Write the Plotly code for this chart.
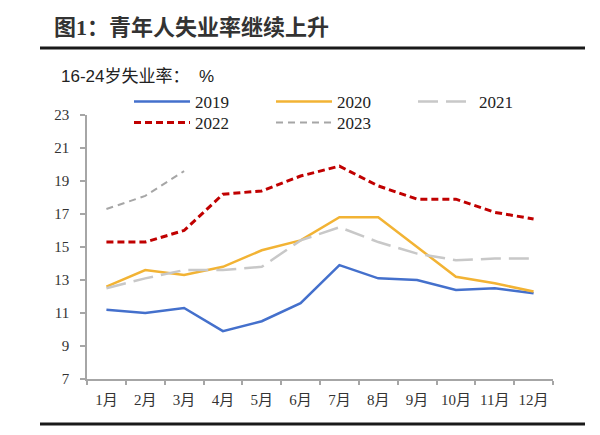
import plotly.graph_objects as go

months = ["1月", "2月", "3月", "4月", "5月", "6月", "7月", "8月", "9月", "10月", "11月", "12月"]
y2019 = [11.2, 11.0, 11.3, 9.9, 10.5, 11.6, 13.9, 13.1, 13.0, 12.4, 12.5, 12.2]
y2020 = [12.6, 13.6, 13.3, 13.8, 14.8, 15.4, 16.8, 16.8, 15.0, 13.2, 12.8, 12.3]
y2021 = [12.5, 13.1, 13.6, 13.6, 13.8, 15.4, 16.2, 15.3, 14.6, 14.2, 14.3, 14.3]
y2022 = [15.3, 15.3, 16.0, 18.2, 18.4, 19.3, 19.9, 18.7, 17.9, 17.9, 17.1, 16.7]
y2023 = [17.3, 18.1, 19.6]
yticks = [7, 9, 11, 13, 15, 17, 19, 21, 23]

title_text = "图1：青年人失业率继续上升"
subtitle_text = "16-24岁失业率：\u00a0\u00a0%"

# page has an 8px body margin; work in screen pixels
OFF = 8
L, R, T, B = 87, 553, 115, 379          # plot area on screen
W, H = 600 - OFF, 435 - OFF             # figure size
pw, ph = R - L, B - T


def px(x):
    return (x - L) / pw


def py(y):
    return (B - y) / ph


serif = "Liberation Serif, Noto Sans CJK SC, serif"
sans = "Liberation Sans, Noto Sans CJK SC, sans-serif"

fig = go.Figure()
fig.add_trace(go.Scatter(x=months, y=y2019, name="2019", mode="lines", legend="legend",
                         line=dict(color="#4470CC", width=2.5)))
fig.add_trace(go.Scatter(x=months, y=y2020, name="2020", mode="lines", legend="legend",
                         line=dict(color="#F2B334", width=2.5)))
fig.add_trace(go.Scatter(x=months, y=y2021, name="2021", mode="lines", legend="legend",
                         line=dict(color="#C8C8C8", width=2.5, dash="20px,8px")))
fig.add_trace(go.Scatter(x=months[:len(y2022)], y=y2022, name="2022", mode="lines", legend="legend2",
                         line=dict(color="#C00000", width=3, dash="7px,4px")))
fig.add_trace(go.Scatter(x=months[:len(y2023)], y=y2023, name="2023", mode="lines", legend="legend2",
                         line=dict(color="#A6A6A6", width=2, dash="7px,5px")))

legend_common = dict(
    orientation="h", xanchor="left", yanchor="top",
    font=dict(family=serif, size=17, color="#222"),
    itemwidth=56, entrywidth=71, entrywidthmode="pixels",
    bgcolor="rgba(0,0,0,0)", borderwidth=0,
    tracegroupgap=0, itemclick=False, itemdoubleclick=False,
)

fig.update_layout(
    width=W, height=H,
    margin=dict(l=L - OFF, r=OFF + W - R, t=T - OFF, b=OFF + H - B, autoexpand=False),
    paper_bgcolor="white", plot_bgcolor="white",
    showlegend=True,
    legend=dict(x=px(129), y=py(84), **legend_common),
    legend2=dict(x=px(129), y=py(105), **legend_common),
    xaxis=dict(
        type="category", categoryorder="array", categoryarray=months,
        range=[-0.5, 11.5],
        showline=True, linecolor="#A6A6A6", linewidth=1.5,
        ticks="outside", tickson="boundaries", ticklen=4, tickcolor="#A6A6A6", tickwidth=1.5,
        showgrid=False, zeroline=False, tickangle=0, ticklabelstandoff=6,
        tickfont=dict(family=serif, size=15, color="#333"),
    ),
    yaxis=dict(
        range=[7, 23], tickvals=yticks, ticktext=[str(v) for v in yticks],
        showline=True, linecolor="#A6A6A6", linewidth=1.5,
        ticks="outside", ticklen=5, tickcolor="#A6A6A6", tickwidth=1.5,
        showgrid=False, zeroline=False, ticklabelstandoff=8,
        tickfont=dict(family=serif, size=15, color="#333"),
    ),
    annotations=[
        dict(text="<b>" + title_text + "</b>", xref="paper", yref="paper",
             x=px(52), y=py(28), xanchor="left", yanchor="middle", showarrow=False,
             font=dict(family=serif, size=22, color="#333")),
        dict(text=subtitle_text, xref="paper", yref="paper",
             x=px(59), y=py(76), xanchor="left", yanchor="middle", showarrow=False,
             font=dict(family=sans, size=17, color="#222")),
    ],
    shapes=[
        dict(type="line", xref="paper", yref="paper", x0=px(40), x1=px(585),
             y0=py(48), y1=py(48), line=dict(color="#1a1a1a", width=3)),
        dict(type="line", xref="paper", yref="paper", x0=px(40), x1=px(585),
             y0=py(424), y1=py(424), line=dict(color="#1a1a1a", width=3)),
        dict(type="line", xref="paper", yref="paper", x0=px(593), x1=px(593),
             y0=py(60), y1=py(435), line=dict(color="#E8E8E8", width=1)),
    ],
)

fig.write_html("out.html")
